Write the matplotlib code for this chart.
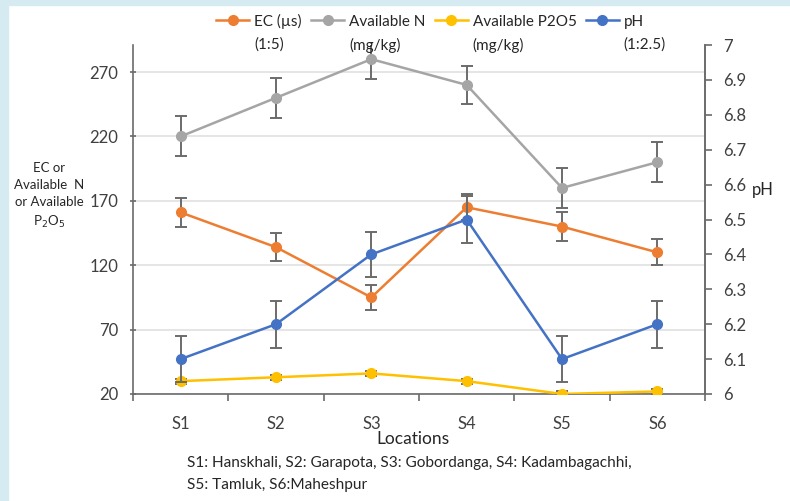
import matplotlib.pyplot as plt
from matplotlib.patches import Rectangle
from matplotlib.lines import Line2D

plt.rcParams['font.family'] = ['Lato', 'DejaVu Sans']

locations = ["S1", "S2", "S3", "S4", "S5", "S6"]

ec = [161, 134, 95, 165, 150, 130]
ec_err = [11, 11, 10, 10, 11, 10]

avail_n = [220, 250, 280, 260, 180, 200]
avail_n_err = [15.5, 15.5, 15.5, 15, 15.5, 15.5]

avail_p = [30, 33, 36, 30, 20, 22]
avail_p_err = [2, 2, 2, 2, 2, 2]

ph = [6.1, 6.2, 6.4, 6.5, 6.1, 6.2]
ph_err = [0.065, 0.067, 0.065, 0.068, 0.067, 0.067]

left_ticks = [20, 70, 120, 170, 220, 270]
right_ticks = [6, 6.1, 6.2, 6.3, 6.4, 6.5, 6.6, 6.7, 6.8, 6.9, 7]

ORANGE = "#ed7d31"
GREY = "#a5a5a5"
GOLD = "#ffc000"
BLUE = "#4472c4"
ERR = "#6b6b6b"
TXT = "#262626"

W, H = 790, 501
fig = plt.figure(figsize=(W / 100, H / 100), dpi=100)

# light blue strips along the left and top edges
fig.patches.append(Rectangle((0, 0), 8 / W, 1, transform=fig.transFigure,
                             color="#d6ebf1", zorder=0))
fig.patches.append(Rectangle((0, 1 - 5 / H), 1, 5 / H, transform=fig.transFigure,
                             color="#d6ebf1", zorder=0))

ax = fig.add_axes([133 / W, 1 - 394 / H, (705 - 133) / W, (394 - 45) / H])
ax2 = ax.twinx()

x = list(range(len(locations)))
style = dict(lw=1.8, marker="o", ms=7, ecolor=ERR, elinewidth=1.4,
             capsize=4, capthick=1.4)

ax.errorbar(x, ec, yerr=ec_err, color=ORANGE, zorder=3, **style)
ax.errorbar(x, avail_n, yerr=avail_n_err, color=GREY, zorder=3, **style)
ax.errorbar(x, avail_p, yerr=avail_p_err, color=GOLD, zorder=3, **style)
ax2.errorbar(x, ph, yerr=ph_err, color=BLUE, zorder=3, **style)

ax.set_xlim(-0.5, 5.5)
ax.set_ylim(20, 291)
ax2.set_ylim(6, 7)

ax.set_yticks(left_ticks)
ax.set_yticklabels([str(t) for t in left_ticks], fontsize=12, color="#404040")
ax2.set_yticks(right_ticks)
ax2.set_yticklabels([f"{t:g}" for t in right_ticks], fontsize=12, color="#404040")

ax.set_xticks(x)
ax.set_xticklabels(locations, fontsize=12, color="#404040")
ax.set_xticks([i + 0.5 for i in range(-1, 6)], minor=True)
ax.tick_params(axis="x", which="major", length=0, pad=16)
ax.tick_params(axis="x", which="minor", length=5, color=ERR, width=1.2,
               direction="out")
ax.tick_params(axis="y", length=5, color=ERR, width=1.2, direction="inout",
               pad=8)
ax2.tick_params(axis="y", length=5, color=ERR, width=1.2, direction="out",
                pad=8)

ax.grid(axis="y", color="#e0e0e0", lw=1.2, zorder=0)
ax.set_axisbelow(True)
for a in (ax, ax2):
    a.spines["top"].set_visible(False)
    for s in a.spines.values():
        s.set_color(ERR)
        s.set_linewidth(1.2)
ax2.spines["left"].set_visible(False)
ax2.spines["bottom"].set_visible(False)

ax.set_xlabel("Locations", fontsize=12.5, color=TXT)
ax.xaxis.set_label_coords((413 - 133) / 572, -(439 - 394) / 349)
ax.xaxis.label.set_va("center")

fig.text(49 / W, 1 - 196 / H, "EC or\nAvailable  N\nor Available\nP$_2$O$_5$",
         ha="center", va="center", fontsize=9.5, linespacing=1.5, color=TXT)
fig.text(752 / W, 1 - 190 / H, "pH", ha="left", va="center", fontsize=12,
         color=TXT)

fig.text(187 / W, 1 - 463 / H,
         "S1: Hanskhali, S2: Garapota, S3: Gobordanga, S4: Kadambagachhi,",
         ha="left", va="center", fontsize=11.1, color=TXT)
fig.text(187 / W, 1 - 485 / H, "S5: Tamluk, S6:Maheshpur",
         ha="left", va="center", fontsize=11.1, color=TXT)

# legend: first line next to the handle, unit text underneath
names = ["EC (µs)", "Available N", "Available P2O5", "pH"]
units = ["(1:5)", "(mg/kg)", "(mg/kg)", "(1:2.5)"]
colors = [ORANGE, GREY, GOLD, BLUE]
handles = [Line2D([], [], color=c, lw=1.8, marker="o", ms=7) for c in colors]
leg = fig.legend(handles, names, loc="center", ncol=4, frameon=False,
                 bbox_to_anchor=(430 / W, 1 - 21 / H), fontsize=11,
                 handlelength=2.16, columnspacing=0.6, handletextpad=0.33)
for t in leg.get_texts():
    t.set_color(TXT)

fig.canvas.draw()
renderer = fig.canvas.get_renderer()
inv = fig.transFigure.inverted()
for txt, unit in zip(leg.get_texts(), units):
    bb = txt.get_window_extent(renderer)
    x0, y0 = inv.transform((bb.x0, bb.y0))
    fig.text(x0, y0 - 9 / H, unit, ha="left", va="top", fontsize=11,
             color=TXT)

fig.savefig("out.png", dpi=100)
